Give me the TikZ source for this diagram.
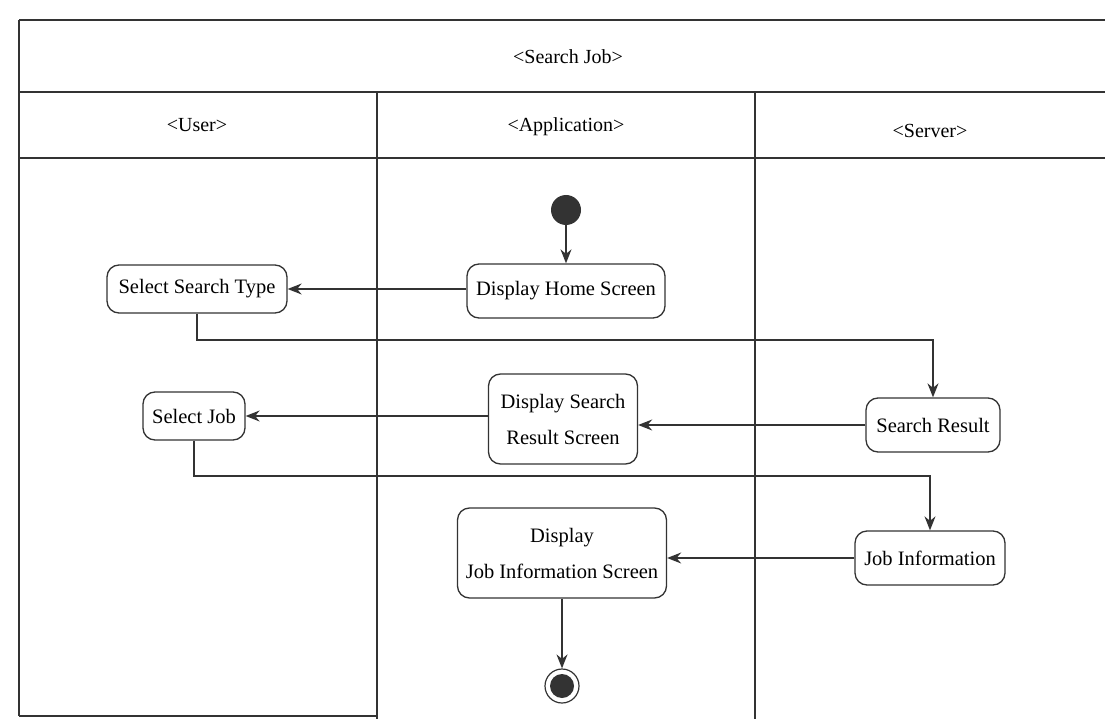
\documentclass[tikz,border=0pt]{standalone}
\usepackage{fontspec}
\setmainfont{Liberation Serif}
\usetikzlibrary{arrows.meta}
\definecolor{ink}{HTML}{333333}
\tikzset{
  lane/.style={draw=ink, line width=1.8pt},
  vlane/.style={draw=ink, line width=1.1pt},
  act/.style={draw=ink, line width=1.3pt, rounded corners=12pt, fill=white, align=center, inner sep=4pt,
    font=\fontsize{20.5}{36}\selectfont},
  lbl/.style={font=\fontsize{20}{24}\selectfont},
  flow/.style={draw=ink, line width=1.5pt, -{Stealth[length=14pt,width=11pt]}},
  startnode/.style={circle, fill=ink, minimum size=30pt, inner sep=0pt},
  endnode/.style={circle, draw=ink, line width=1.2pt, fill=white, minimum size=34pt, inner sep=0pt,
    path picture={\fill[ink] (path picture bounding box.center) circle (12pt);}},
}
\begin{document}
\begin{tikzpicture}[x=1pt,y=-1pt]
\useasboundingbox (0,0) rectangle (1105,719);
% frame
\draw[lane] (1105,20) -- (19,20);
\draw[vlane] (19,20) -- (19,716);
\draw[lane] (19,716) -- (377,716);
\draw[lane] (19,92) -- (1105,92);
\draw[lane] (19,158) -- (1105,158);
\draw[vlane] (377,92) -- (377,719);
\draw[vlane] (755,92) -- (755,719);
% labels
\node[lbl] (title) at (568,57) {<Search Job>};
\node[lbl] (user) at (197,125) {<User>};
\node[lbl] (app) at (566,127) {<Application>};
\node[lbl] (srv) at (930,131) {<Server>};
% activities
\node[startnode] (start) at (566,210) {};
\node[act, minimum width=198pt, minimum height=54pt] (home) at (566,291) {Display Home Screen};
\node[act, minimum width=180pt, minimum height=48pt] (type) at (197,289) {Select Search Type};
\node[act, minimum width=134pt, minimum height=54pt] (sres) at (933,425) {Search Result};
\node[act, minimum width=149pt, minimum height=90pt] (dres) at (563,419) {Display Search\\Result Screen};
\node[act, minimum width=102pt, minimum height=48pt] (job) at (194,416) {Select Job};
\node[act, minimum width=150pt, minimum height=54pt] (jinfo) at (930,558) {Job Information};
\node[act, minimum width=209pt, minimum height=90pt] (djob) at (562,553) {Display\\Job Information Screen};
\node[endnode] (end) at (562,686) {};
\coordinate (bend1) at (933,340);
\coordinate (bend2) at (930,476);
% flows
\draw[flow] (start) -- (home);
\draw[flow] (home.west |- type.east) -- (type.east);
\draw[flow] (type.south) |- (bend1) -- (sres.north);
\draw[flow] (sres.west) -- (sres.west -| dres.east);
\draw[flow] (dres.west |- job.east) -- (job.east);
\draw[flow] (job.south) |- (bend2) -- (jinfo.north);
\draw[flow] (jinfo.west) -- (jinfo.west -| djob.east);
\draw[flow] (djob.south) -- (end);
\end{tikzpicture}
\end{document}
